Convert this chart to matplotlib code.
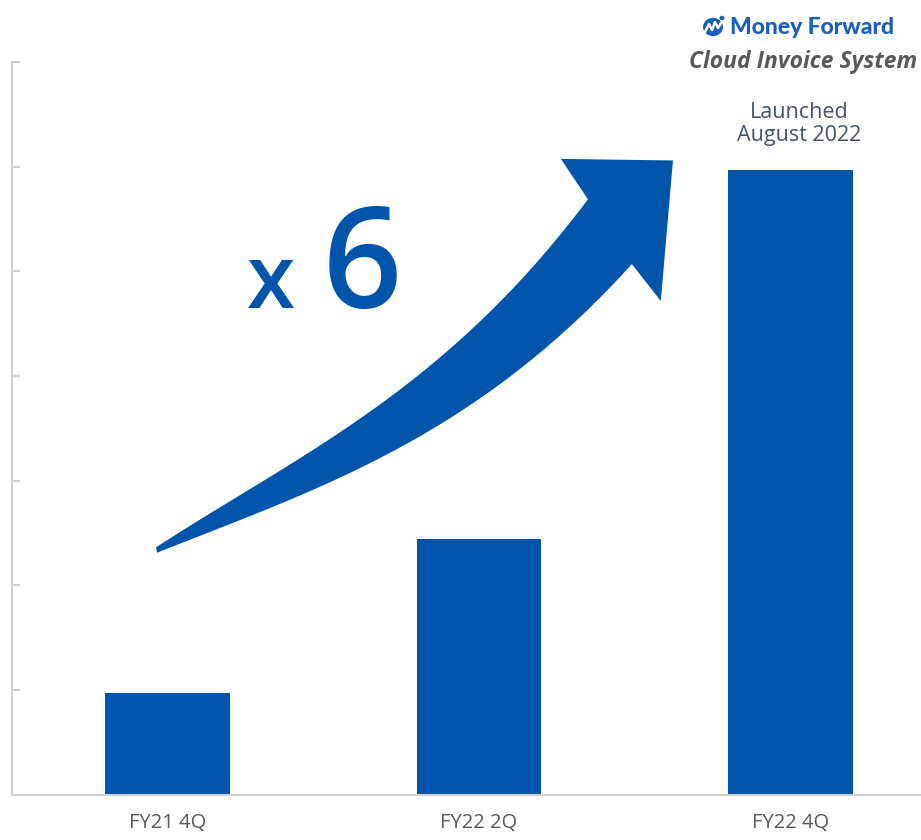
import numpy as np
import matplotlib.pyplot as plt
from matplotlib.patches import Polygon, Circle

# Quarterly figures (relative units, FY21 4Q ≈ 1)
categories = ["FY21 4Q", "FY22 2Q", "FY22 4Q"]
values = [0.97, 2.44, 5.97]
y_ticks = [0, 1, 2, 3, 4, 5, 6, 7]

BLUE = "#0055AA"
GRAY_TEXT = "#595959"
AXIS_GRAY = "#D0D0D0"

W, H = 921, 840
fig = plt.figure(figsize=(W / 100, H / 100), dpi=100)
fig.patch.set_facecolor("white")


def fx(px):
    return px / W


def fy(py):
    return 1 - py / H


ax = fig.add_axes([12 / W, 45.5 / H, 934 / W, 732.5 / H])
x = np.arange(len(categories))
ax.bar(x, values, width=0.4, color=BLUE, zorder=2)
ax.set_xlim(-0.5, 2.5)
ax.set_ylim(0, 7)

ax.set_yticks(y_ticks)
ax.set_yticklabels([])
ax.tick_params(axis="y", direction="in", length=6, width=1.5, color=AXIS_GRAY)
ax.set_xticks(x)
ax.set_xticklabels(categories, fontsize=14.5, color=GRAY_TEXT, family="Open Sans")
ax.tick_params(axis="x", length=0, pad=13)
for side in ("top", "right"):
    ax.spines[side].set_visible(False)
for side in ("left", "bottom"):
    ax.spines[side].set_color(AXIS_GRAY)
    ax.spines[side].set_linewidth(1.5)

# Curved growth arrow (outline in data units)
upper_x = [-0.037, 0.371, 0.692, 1.013, 1.228, 1.350]
upper_y = [2.365, 3.101, 3.770, 4.535, 5.232, 5.691]
lower_x = [-0.034, 0.371, 0.801, 1.122, 1.334, 1.491]
lower_y = [2.317, 2.767, 3.436, 4.057, 4.535, 5.098]
head_left = (1.263, 6.074)
head_tip = (1.623, 6.059)
head_bottom = (1.584, 4.716)

pu = np.polyfit(upper_x, upper_y, 3)
pl = np.polyfit(lower_x, lower_y, 3)
ux = np.linspace(upper_x[0], upper_x[-1], 80)
lx = np.linspace(lower_x[0], lower_x[-1], 80)
upper = np.column_stack([ux, np.polyval(pu, ux)])
lower = np.column_stack([lx, np.polyval(pl, lx)])
outline = np.vstack([
    upper,
    [head_left, head_tip, head_bottom],
    lower[::-1],
])
ax.add_patch(Polygon(outline, closed=True, facecolor=BLUE, edgecolor="none",
                     zorder=3, clip_on=False))

# Growth multiple
fig.text(fx(247), fy(308), "x", fontsize=63, color=BLUE, family="Open Sans",
         weight="semibold", ha="left", va="baseline")
fig.text(fx(323), fy(308), "6", fontsize=100, color=BLUE, family="Open Sans",
         weight="semibold", ha="left", va="baseline")

# Launch note above the last bar
fig.text(fx(799), fy(124), "Launched\nAugust 2022", fontsize=15.5, color="#44546A",
         family="Open Sans", ha="center", va="center", linespacing=1.1)

# Product branding
fig.text(fx(917), fy(62), "Cloud Invoice System", fontsize=16.5, color=GRAY_TEXT,
         family="Open Sans", weight="bold", style="italic", ha="right", va="center")
logo_blue = "#1A5FC0"
fig.text(fx(894), fy(27), "Money Forward", fontsize=16.5, color=logo_blue,
         family="Lato", weight="black", ha="right", va="center")
icon = Circle((fx(713), fy(27)), radius=10 / W, transform=fig.transFigure,
              facecolor=logo_blue, edgecolor="none")
fig.add_artist(icon)
fig.add_artist(Circle((fx(722), fy(18)), radius=2.5 / W, transform=fig.transFigure,
                      facecolor=logo_blue, edgecolor="none"))
fig.add_artist(plt.Line2D([fx(705), fx(709), fx(712), fx(715), fx(718), fx(721)],
                          [fy(32), fy(24), fy(30), fy(22), fy(28), fy(23)],
                          transform=fig.transFigure, color="white", lw=1.8))

fig.savefig("out.png", dpi=100, facecolor="white")
